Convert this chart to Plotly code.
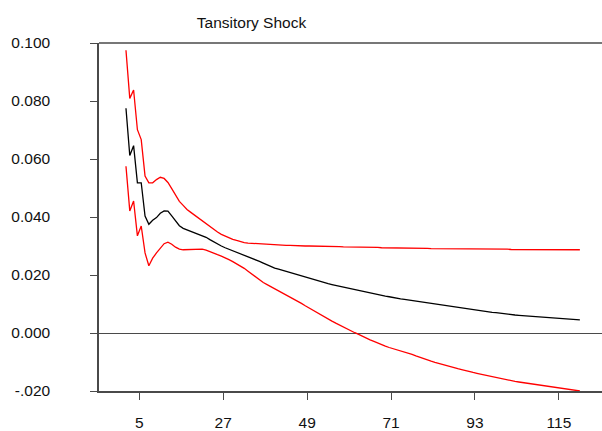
import plotly.graph_objects as go

periods = list(range(1, 121))

response = [
    0.0775, 0.0612, 0.0646, 0.0518, 0.0518, 0.0403, 0.0375, 0.0389, 0.0398, 0.0413,
    0.0421, 0.0420, 0.0404, 0.0386, 0.0370, 0.0361, 0.0356, 0.0351, 0.0345, 0.0341,
    0.0336, 0.0330, 0.0322, 0.0314, 0.0306, 0.0300, 0.0294, 0.0289, 0.0283, 0.0278,
    0.0273, 0.0268, 0.0263, 0.0258, 0.0253, 0.0247, 0.0241, 0.0235, 0.0229, 0.0224,
    0.0220, 0.0216, 0.0212, 0.0208, 0.0204, 0.0200, 0.0196, 0.0192, 0.0188, 0.0185,
    0.0182, 0.0178, 0.0174, 0.0170, 0.0167, 0.0164, 0.0161, 0.0158, 0.0155, 0.0152,
    0.0149, 0.0146, 0.0143, 0.0140, 0.0137, 0.0135, 0.0132, 0.0130, 0.0127, 0.0125,
    0.0122, 0.0120, 0.0118, 0.0116, 0.0114, 0.0111, 0.0109, 0.0107, 0.0105, 0.0103,
    0.0101, 0.0099, 0.0097, 0.0095, 0.0093, 0.0091, 0.0089, 0.0087, 0.0085, 0.0083,
    0.0081, 0.0079, 0.0077, 0.0076, 0.0074, 0.0073, 0.0071, 0.0070, 0.0068, 0.0067,
    0.0065, 0.0063, 0.0062, 0.0061, 0.0060, 0.0059, 0.0058, 0.0057, 0.0056, 0.0055,
    0.0054, 0.0053, 0.0052, 0.0051, 0.0050, 0.0049, 0.0048, 0.0047, 0.0046, 0.0045,
]

upper_band = [
    0.0975, 0.0809, 0.0838, 0.0701, 0.0667, 0.0541, 0.0518, 0.0518, 0.0529, 0.0537,
    0.0533, 0.0519, 0.0498, 0.0474, 0.0454, 0.0440, 0.0426, 0.0416, 0.0406, 0.0395,
    0.0385, 0.0375, 0.0366, 0.0357, 0.0348, 0.0340, 0.0334, 0.0328, 0.0323, 0.0319,
    0.0315, 0.0312, 0.0310, 0.0309, 0.0308, 0.0307, 0.0306, 0.0305, 0.0304, 0.0304,
    0.0303, 0.0303, 0.0302, 0.0302, 0.0301, 0.0301, 0.0301, 0.0300, 0.0300, 0.0300,
    0.0299, 0.0299, 0.0299, 0.0299, 0.0298, 0.0298, 0.0298, 0.0297, 0.0297, 0.0297,
    0.0296, 0.0296, 0.0296, 0.0296, 0.0295, 0.0295, 0.0295, 0.0294, 0.0294, 0.0294,
    0.0294, 0.0293, 0.0293, 0.0293, 0.0293, 0.0292, 0.0292, 0.0292, 0.0292, 0.0292,
    0.0291, 0.0291, 0.0291, 0.0291, 0.0291, 0.0290, 0.0290, 0.0290, 0.0290, 0.0290,
    0.0290, 0.0290, 0.0289, 0.0289, 0.0289, 0.0289, 0.0289, 0.0289, 0.0289, 0.0289,
    0.0289, 0.0288, 0.0288, 0.0288, 0.0288, 0.0288, 0.0288, 0.0288, 0.0288, 0.0288,
    0.0288, 0.0288, 0.0288, 0.0288, 0.0287, 0.0287, 0.0287, 0.0287, 0.0287, 0.0287,
]

lower_band = [
    0.0575, 0.0421, 0.0455, 0.0335, 0.0369, 0.0276, 0.0232, 0.0258, 0.0276, 0.0293,
    0.0308, 0.0313, 0.0306, 0.0296, 0.0289, 0.0287, 0.0287, 0.0288, 0.0289, 0.0289,
    0.0289, 0.0286, 0.0280, 0.0275, 0.0270, 0.0265, 0.0260, 0.0253, 0.0246, 0.0239,
    0.0232, 0.0223, 0.0213, 0.0203, 0.0193, 0.0183, 0.0174, 0.0167, 0.0160, 0.0153,
    0.0146, 0.0139, 0.0132, 0.0125, 0.0118, 0.0110, 0.0102, 0.0094, 0.0086, 0.0079,
    0.0071, 0.0063, 0.0055, 0.0047, 0.0041, 0.0034, 0.0027, 0.0021, 0.0014, 0.0008,
    0.0001, -0.0005, -0.0012, -0.0018, -0.0024, -0.0029, -0.0035, -0.0040, -0.0045, -0.0050,
    -0.0054, -0.0057, -0.0060, -0.0065, -0.0070, -0.0074, -0.0079, -0.0084, -0.0088, -0.0093,
    -0.0097, -0.0101, -0.0105, -0.0109, -0.0112, -0.0116, -0.0119, -0.0123, -0.0126, -0.0130,
    -0.0133, -0.0136, -0.0139, -0.0142, -0.0145, -0.0148, -0.0151, -0.0154, -0.0157, -0.0160,
    -0.0162, -0.0164, -0.0167, -0.0169, -0.0171, -0.0173, -0.0175, -0.0178, -0.0180, -0.0182,
    -0.0184, -0.0186, -0.0188, -0.0190, -0.0192, -0.0193, -0.0195, -0.0197, -0.0199, -0.0200,
]

x_tick_labels = ["5", "27", "49", "71", "93", "115"]
y_tick_values = [0.100, 0.080, 0.060, 0.040, 0.020, 0.000, -0.020]
y_tick_labels = ["0.100", "0.080", "0.060", "0.040", "0.020", "0.000", "-.020"]
title_text = "Tansitory Shock"

FONT = "Liberation Sans Narrow, Arial Narrow, Liberation Sans, Arial, sans-serif"
FSIZE = 15.5
AXIS_COLOR = "#4a4a4a"

fig = go.Figure()
fig.add_trace(go.Scatter(x=periods, y=upper_band, mode="lines",
                         line=dict(color="#ff0000", width=1.3), showlegend=False))
fig.add_trace(go.Scatter(x=periods, y=lower_band, mode="lines",
                         line=dict(color="#ff0000", width=1.3), showlegend=False))
fig.add_trace(go.Scatter(x=periods, y=response, mode="lines",
                         line=dict(color="#000000", width=1.3), showlegend=False))

fig.update_layout(
    width=602, height=431,
    margin=dict(l=99, r=0, t=43, b=38),
    paper_bgcolor="white", plot_bgcolor="white",
    font=dict(family=FONT, size=FSIZE, color="#111111"),
    title=dict(text=title_text, x=251.5 / 602, xanchor="center",
               y=1 - 23 / 431, yanchor="middle",
               font=dict(family=FONT, size=FSIZE, color="#111111")),
    xaxis=dict(
        range=[-6.07, 125.8],
        tickmode="array",
        tickvals=[int(t) - 0.5 for t in x_tick_labels],
        ticktext=x_tick_labels,
        ticks="outside", ticklen=7, tickwidth=1.3, tickcolor=AXIS_COLOR,
        showline=True, linecolor=AXIS_COLOR, linewidth=1.5,
        showgrid=False, zeroline=False,
        ticklabelstandoff=10,
    ),
    yaxis=dict(
        range=[-0.020, 0.100],
        tickmode="array",
        tickvals=y_tick_values,
        ticktext=y_tick_labels,
        ticks="outside", ticklen=7, tickwidth=1.3, tickcolor=AXIS_COLOR,
        showline=True, linecolor=AXIS_COLOR, linewidth=1.5,
        showgrid=False,
        zeroline=True, zerolinecolor=AXIS_COLOR, zerolinewidth=1.3,
        ticklabelstandoff=37,
    ),
    shapes=[dict(type="line", xref="paper", yref="paper", x0=0, x1=1, y0=1, y1=1,
                 line=dict(color=AXIS_COLOR, width=1.5))],
)

fig.write_html("out.html", config={"displayModeBar": False},
               post_script="document.body.style.margin='0';")
